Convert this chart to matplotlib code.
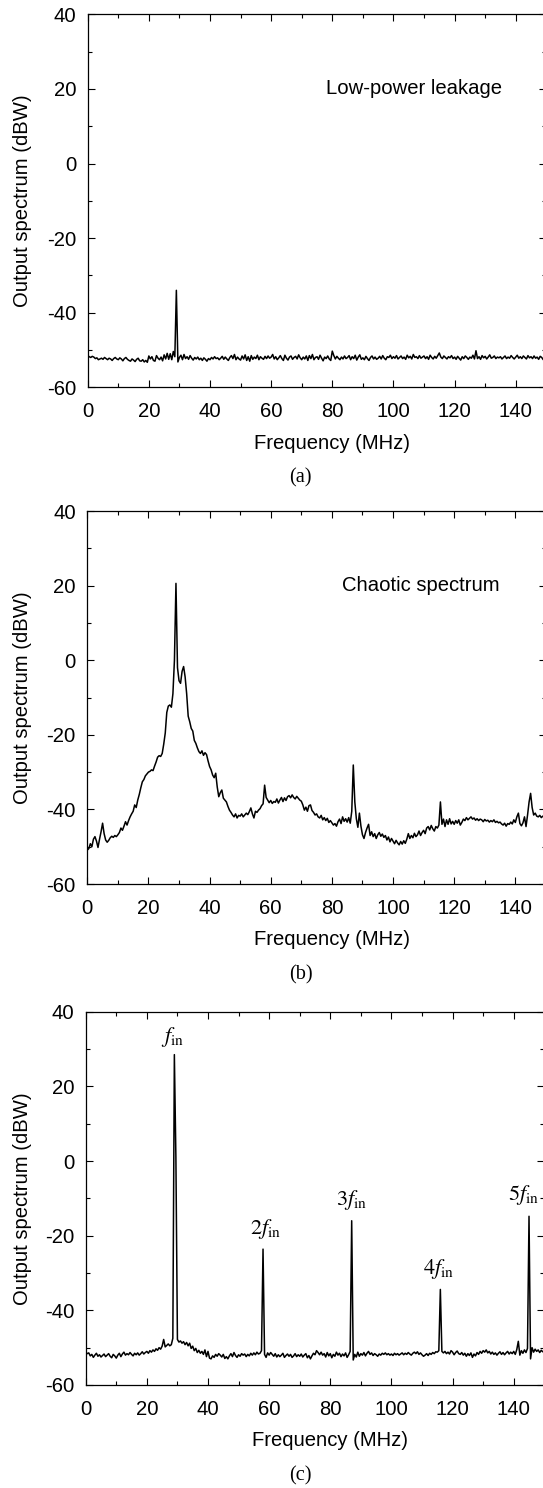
import matplotlib.pyplot as plt
import numpy as np
from matplotlib.ticker import MultipleLocator

plt.rcParams['font.family'] = ['Liberation Sans', 'DejaVu Sans']
plt.rcParams['mathtext.fontset'] = 'stix'
plt.rcParams['axes.unicode_minus'] = False

# frequency grid (MHz), one sample every 0.5 MHz
freq = np.arange(0, 150.5, 0.5)

# (a) low-power leakage, dBW
level_a = [
    -51.5, -51.8, -52.0, -51.7, -51.9, -52.3, -52.1, -52.6, -52.4, -52.2, -52.5, -52.0, -52.3, -52.6, -52.2, -52.4, -52.8, -52.3, -52.0, -52.4,
    -52.6, -52.1, -52.4, -52.9, -52.3, -52.0, -52.5, -52.8, -53.0, -52.4, -52.7, -53.1, -52.5, -52.2, -52.9, -53.0, -52.6, -53.2, -52.8, -53.3,
    -51.6, -52.4, -51.8, -52.8, -53.0, -51.5, -52.2, -52.6, -51.9, -52.9, -51.3, -52.4, -50.9, -52.5, -51.0, -52.6, -50.4, -51.8, -34.0, -53.2,
    -52.0, -51.4, -52.6, -51.2, -52.3, -51.8, -52.5, -51.5, -52.2, -52.7, -52.0, -52.4, -51.9, -52.6, -52.2, -52.8, -52.1, -52.5, -53.0, -52.3,
    -52.6, -52.0, -52.4, -51.8, -52.3, -52.1, -52.6, -52.2, -51.7, -52.5, -51.9, -52.4, -52.8, -52.0, -51.5, -52.3, -51.2, -52.6, -51.9, -52.4,
    -52.7, -51.6, -52.4, -51.3, -52.8, -51.8, -53.0, -51.5, -52.5, -51.9, -52.3, -51.4, -52.6, -51.8, -52.2, -52.5, -51.7, -52.3, -51.6, -52.2,
    -51.9, -51.2, -52.4, -51.8, -52.6, -52.1, -51.5, -52.3, -52.8, -51.4, -52.2, -52.7, -51.9, -51.6, -52.5, -52.0, -51.7, -52.4, -51.3, -52.1,
    -52.6, -51.9, -52.4, -51.6, -52.8, -51.5, -52.3, -51.2, -52.6, -52.0, -51.8, -52.5, -51.4, -52.2, -52.9, -51.9, -52.3, -51.6, -52.4, -52.8,
    -50.3, -51.5, -52.4, -51.7, -52.2, -52.6, -51.9, -52.4, -51.6, -52.3, -52.0, -51.5, -52.6, -51.8, -52.3, -51.4, -52.7, -51.9, -51.3, -52.5,
    -52.1, -52.6, -51.7, -52.3, -52.8, -52.0, -51.6, -52.4, -51.9, -52.5, -52.2, -51.7, -52.4, -51.5, -52.2, -52.6, -51.8, -52.0, -51.4, -52.3,
    -51.8, -52.2, -51.5, -52.4, -52.0, -51.6, -52.3, -51.9, -52.5, -51.4, -52.1, -51.7, -52.4, -51.2, -52.0, -51.8, -52.3, -51.5, -52.2, -51.9,
    -51.6, -52.3, -51.8, -52.5, -51.4, -52.0, -52.4, -51.7, -52.2, -51.5, -50.8, -51.9, -52.3, -51.6, -52.0, -52.4, -51.8, -52.1, -51.5, -52.3,
    -51.9, -52.5, -51.7, -52.2, -52.7, -51.8, -52.3, -51.6, -52.0, -52.5, -51.9, -52.2, -51.4, -52.4, -50.2, -52.3, -51.8, -52.5, -51.5, -52.1,
    -51.7, -52.4, -51.9, -51.3, -52.2, -52.0, -51.6, -52.3, -51.9, -52.1, -51.8, -52.4, -52.0, -51.6, -52.3, -51.9, -52.2, -51.5, -52.0, -52.4,
    -51.9, -51.4, -52.2, -51.8, -52.3, -51.6, -52.0, -52.4, -51.5, -52.1, -51.8, -52.3, -51.6, -52.2, -51.9, -52.5, -51.7, -52.0, -52.6, -51.9, -52.2,
]

# (b) chaotic spectrum, dBW
level_b = [
    -50.9, -50.5, -49.2, -50.0, -48.0, -47.3, -48.5, -50.2, -48.0, -46.0, -43.7, -46.5, -48.2, -48.8, -48.3, -47.6, -47.2, -47.5, -47.0, -47.3,
    -46.8, -46.2, -45.0, -45.6, -44.5, -43.3, -44.2, -43.0, -42.0, -41.2, -40.5, -38.8, -39.5, -37.5, -36.0, -34.2, -32.6, -32.0, -31.0, -30.5,
    -30.0, -29.8, -29.4, -29.6, -28.4, -27.3, -26.0, -25.6, -25.8, -25.0, -22.5, -19.5, -14.0, -12.3, -12.0, -12.6, -9.0, 0.0, 20.6, -2.0,
    -5.5, -6.2, -3.0, -1.7, -4.5, -9.0, -15.0, -16.5, -18.3, -19.0, -21.5, -22.3, -23.5, -24.5, -25.0, -24.3, -25.5, -24.8, -25.3, -27.0,
    -28.5, -29.4, -30.8, -31.5, -30.3, -34.0, -36.6, -35.5, -34.8, -37.0, -37.5, -38.0, -39.2, -40.2, -40.8, -41.5, -42.0, -41.2, -42.3, -41.6,
    -41.8, -41.2, -42.0, -41.5, -41.0, -41.4, -40.6, -39.6, -41.2, -42.3, -40.5, -40.8, -40.2, -39.8, -39.0, -38.5, -33.5, -36.8, -37.5, -38.2,
    -37.6, -38.4, -37.9, -38.1, -37.2, -38.3, -37.5, -36.8, -37.9, -36.9, -37.6, -36.6, -36.3, -36.9, -36.1, -36.8, -37.2, -36.5, -37.0, -37.5,
    -37.8, -38.8, -40.2, -39.4, -40.5, -39.0, -38.8, -40.3, -40.8, -41.5, -41.2, -42.0, -42.3, -41.6, -42.8, -42.2, -43.0, -42.4, -43.5, -43.0,
    -43.6, -44.2, -43.8, -44.5, -43.3, -42.6, -43.8, -42.0, -43.2, -42.5, -43.4, -42.2, -43.7, -40.5, -28.1, -38.0, -42.5, -44.8, -41.0, -44.5,
    -46.8, -47.8, -46.2, -45.0, -44.0, -47.0, -46.0, -47.3, -46.5, -47.8, -46.8, -46.2, -47.2, -46.6, -47.5, -47.0, -48.2, -47.4, -48.7, -47.8,
    -48.5, -49.2, -48.3, -49.0, -49.5, -48.6, -49.3, -48.4, -49.1, -48.0, -46.5, -47.8, -47.0, -47.6, -46.4, -47.3, -46.8, -45.8, -47.0, -46.2,
    -45.6, -46.5, -45.0, -44.6, -45.5, -44.3, -45.2, -45.8, -44.6, -45.0, -44.2, -38.0, -44.0, -42.6, -44.6, -42.8, -44.0, -42.5, -43.9, -43.2,
    -44.0, -43.0, -43.7, -42.8, -44.2, -43.5, -42.6, -43.0, -42.2, -42.8, -42.4, -42.0, -42.6, -42.3, -42.9, -42.5, -43.0, -42.6, -42.8, -43.3,
    -42.7, -43.1, -42.9, -43.4, -43.0, -43.3, -42.8, -43.5, -43.2, -43.6, -43.4, -43.9, -44.2, -43.7, -44.5, -43.8, -44.0, -43.4, -43.9, -42.8,
    -43.5, -42.0, -41.0, -43.8, -44.4, -43.6, -42.0, -44.6, -41.5, -38.0, -35.7, -39.5, -41.5, -41.0, -41.8, -42.0, -41.6, -42.2, -41.8, -42.0, -42.3,
]

# (c) harmonics of the input, dBW
level_c = [
    -51.2, -51.6, -51.4, -52.2, -51.8, -52.6, -52.0, -51.5, -52.3, -51.9, -52.5, -52.1, -51.7, -52.4, -52.0, -51.6, -52.3, -52.7, -51.8, -52.2,
    -52.8, -52.0, -51.5, -52.4, -51.7, -51.2, -52.0, -51.6, -51.9, -51.3, -51.8, -52.2, -51.5, -51.9, -51.4, -52.0, -51.6, -51.1, -51.7, -51.3,
    -51.0, -51.5, -50.8, -51.2, -50.6, -51.0, -50.3, -50.7, -50.0, -50.4, -49.6, -47.8, -49.8, -49.4, -49.0, -49.5, -49.2, -47.5, 28.5, 1.0,
    -47.8, -48.5, -48.2, -48.8, -48.4, -49.2, -48.6, -49.5, -48.8, -50.2, -49.6, -50.8, -50.2, -51.3, -50.7, -51.5, -51.0, -51.8, -50.6, -52.4,
    -51.0, -52.8, -53.0, -52.2, -52.6, -51.8, -52.3, -51.6, -52.0, -52.5, -51.8, -52.9, -52.4, -53.0, -52.2, -51.6, -52.4, -51.3, -52.1, -52.6,
    -51.9, -52.3, -51.6, -52.0, -51.7, -52.4, -51.8, -52.2, -51.5, -52.0, -51.4, -51.9, -51.2, -51.7, -51.5, -50.8, -23.6, -51.8, -52.6, -51.4,
    -52.0, -51.3, -51.8, -52.3, -51.6, -52.5, -51.9, -52.4, -52.0, -51.5, -52.6, -52.1, -51.7, -52.3, -51.8, -52.6, -52.2, -51.6, -52.4, -51.9,
    -52.3, -51.7, -52.5, -52.0, -51.6, -52.7, -52.1, -53.0, -52.2, -51.5, -51.9, -50.8, -51.3, -51.9, -51.2, -52.0, -51.6, -52.5, -51.3, -52.2,
    -51.6, -52.7, -51.8, -52.3, -51.2, -52.0, -51.5, -52.4, -51.7, -52.2, -51.4, -52.6, -51.9, -51.0, -16.0, -53.3, -51.8, -52.5, -51.2, -52.3,
    -51.6, -52.0, -51.3, -52.2, -51.5, -51.0, -51.8, -51.4, -52.1, -51.6, -51.9, -52.3, -51.7, -52.0, -51.5, -51.8, -51.4, -51.9, -51.6, -52.0,
    -51.7, -52.1, -51.5, -51.9, -51.6, -52.0, -51.7, -51.4, -51.9, -51.5, -51.8, -51.3, -51.7, -52.0, -51.5, -51.2, -51.6, -51.1, -51.8, -51.4,
    -51.9, -52.3, -52.0, -51.6, -52.1, -51.5, -51.8, -51.3, -51.6, -51.1, -51.2, -50.8, -34.4, -51.0, -51.4, -51.0, -51.6, -51.2, -51.7, -50.8,
    -51.2, -51.9, -51.3, -50.9, -51.6, -51.8, -51.3, -52.0, -51.5, -52.3, -51.6, -52.1, -51.4, -52.6, -51.7, -52.2, -51.3, -51.8, -51.0, -51.5,
    -50.8, -51.2, -50.6, -51.4, -51.0, -51.7, -51.2, -51.8, -51.4, -52.0, -51.5, -51.1, -51.8, -51.3, -51.9, -51.4, -51.0, -51.7, -51.2, -51.6,
    -51.0, -51.8, -50.5, -48.3, -52.0, -50.8, -51.5, -50.6, -51.3, -50.2, -14.8, -53.0, -50.0, -51.2, -50.4, -51.0, -50.6, -51.3, -50.7, -51.1, -50.9,
]

harm_labels = [r'$f_{\rm in}$', r'$2f_{\rm in}$', r'$3f_{\rm in}$', r'$4f_{\rm in}$', r'$5f_{\rm in}$']
harm_x = [28.4, 58.8, 87.1, 115.3, 143.1]
harm_y = [33.2, -18.1, -10.5, -29.0, -9.2]

W, H = 543, 1488
fig = plt.figure(figsize=(W / 100, H / 100), dpi=100, facecolor='white')

# axes boxes in pixels: left, top, bottom
boxes = [(87.7, 14.3, 387.3), (87.3, 511.0, 884.0), (85.7, 1011.7, 1385.0)]
levels = [level_a, level_b, level_c]
captions = ['(a)', '(b)', '(c)']
notes = ['Low-power leakage', 'Chaotic spectrum', None]
note_pos = [(106.6, 20.2), (109.0, 20.0), None]

fs = 14.6
for i in range(3):
    left, top, bottom = boxes[i]
    ax = fig.add_axes([left / W, 1 - bottom / H, 458.6 / W, (bottom - top) / H])
    ax.plot(freq, levels[i], color='black', linewidth=1.1)
    ax.set_xlim(0, 150)
    ax.set_ylim(-60, 40)
    ax.xaxis.set_major_locator(MultipleLocator(20))
    ax.xaxis.set_minor_locator(MultipleLocator(10))
    ax.yaxis.set_major_locator(MultipleLocator(20))
    ax.yaxis.set_minor_locator(MultipleLocator(10))
    ax.tick_params(which='both', direction='in', top=True, right=True, width=0.8, labelsize=fs)
    ax.tick_params(which='major', length=4.8)
    ax.tick_params(which='minor', length=2.9)
    ax.tick_params(axis='x', pad=10.5)
    ax.tick_params(axis='y', pad=8.4)
    for sp in ax.spines.values():
        sp.set_linewidth(0.9)

    ax.set_xlabel('Frequency (MHz)', fontsize=fs, va='center')
    ax.xaxis.set_label_coords(0.533, -0.150)
    ax.set_ylabel('Output spectrum (dBW)', fontsize=fs, va='center')
    ax.yaxis.set_label_coords((22.5 - left) / 458.6, 0.5)

    if notes[i]:
        ax.text(note_pos[i][0], note_pos[i][1], notes[i], fontsize=fs, ha='center', va='center')

    if i == 2:
        for lab, hx, hy in zip(harm_labels, harm_x, harm_y):
            ax.text(hx, hy, lab, fontsize=16, ha='center', va='center', clip_on=False)

    fig.text(300.8 / W, 1 - (bottom + 91) / H, captions[i], fontsize=fs,
             family='Liberation Serif', ha='center', va='center')

fig.savefig('out.png', dpi=100, facecolor='white')
